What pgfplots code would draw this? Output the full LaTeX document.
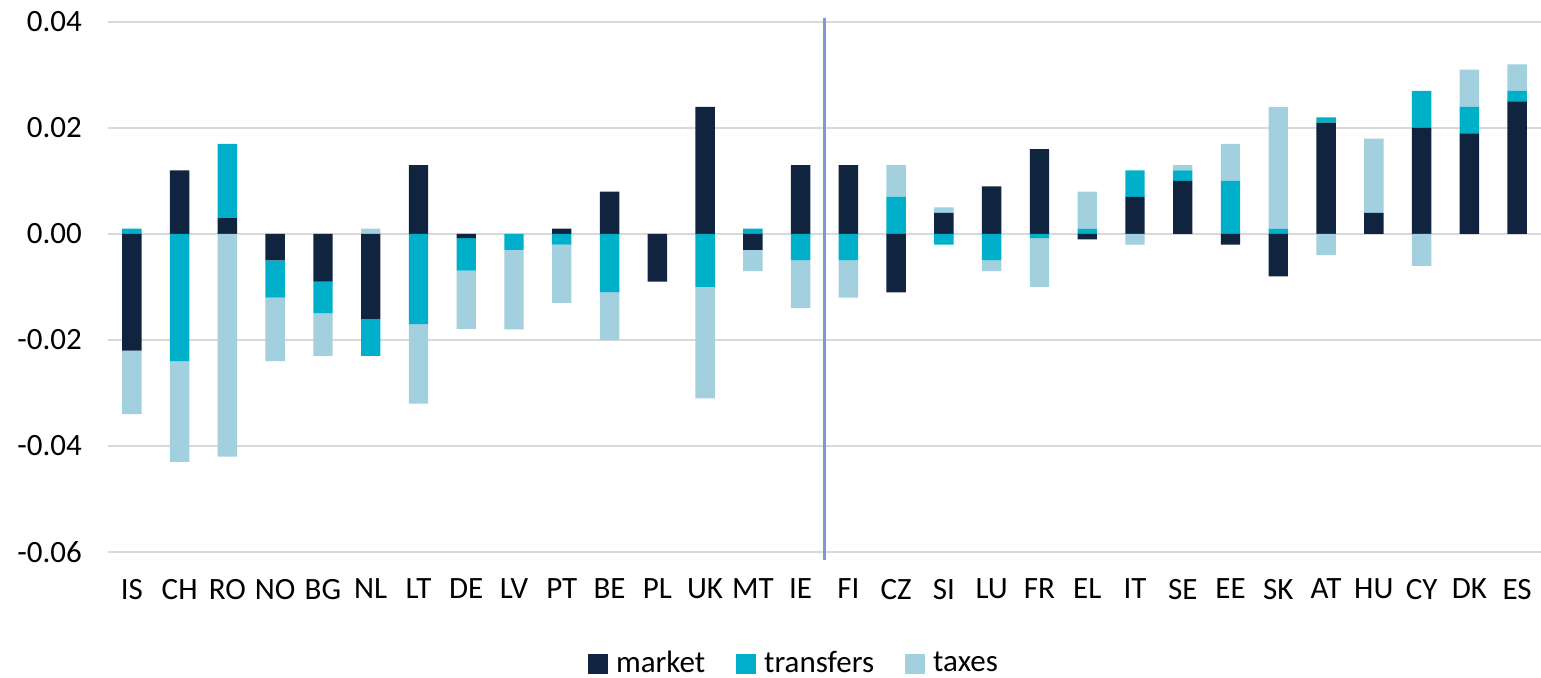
\documentclass[border=0pt]{standalone}
\usepackage{pgfplots}
\pgfplotsset{compat=1.18}
\usepackage{pgfplotstable}
\usepackage{fontspec}
\setmainfont{Carlito}
\definecolor{cmarket}{HTML}{10243F}
\definecolor{ctransfers}{HTML}{00B0CA}
\definecolor{ctaxes}{HTML}{A3D0DE}
\definecolor{cgrid}{HTML}{D9D9D9}
\definecolor{cvline}{HTML}{789BD6}
\newcommand{\lblfont}{\fontsize{15.5pt}{18pt}\selectfont}

% positive parts (stacked upward from 0: market, transfers, taxes)
\pgfplotstableread{
x market transfers taxes
0  0      0.001  0
1  0.012  0      0
2  0.003  0.014  0
3  0      0      0
4  0      0      0
5  0      0      0.001
6  0.013  0      0
7  0      0      0
8  0      0      0
9  0.001  0      0
10 0.008  0      0
11 0      0      0
12 0.024  0      0
13 0      0.001  0
14 0.013  0      0
15 0.013  0      0
16 0      0.007  0.006
17 0.004  0      0.001
18 0.009  0      0
19 0.016  0      0
20 0      0.001  0.007
21 0.007  0.005  0
22 0.010  0.002  0.001
23 0      0.010  0.007
24 0      0.001  0.023
25 0.021  0.001  0
26 0.004  0      0.014
27 0.020  0.007  0
28 0.019  0.005  0.007
29 0.025  0.002  0.005
}\postable

% negative parts (stacked downward from 0: market, transfers, taxes)
\pgfplotstableread{
x market transfers taxes
0  -0.022  0       -0.012
1  0       -0.024  -0.019
2  0       0       -0.042
3  -0.005  -0.007  -0.012
4  -0.009  -0.006  -0.008
5  -0.016  -0.007  0
6  0       -0.017  -0.015
7  -0.0008 -0.0061 -0.011
8  0       -0.003  -0.015
9  0       -0.002  -0.011
10 0       -0.011  -0.009
11 -0.009  0       0
12 0       -0.010  -0.021
13 -0.003  0       -0.004
14 0       -0.005  -0.009
15 0       -0.005  -0.007
16 -0.011  0       0
17 0       -0.002  0
18 0       -0.005  -0.002
19 0       -0.0008 -0.0092
20 -0.001  0       0
21 0       0       -0.002
22 0       0       0
23 -0.002  0       0
24 -0.008  0       0
25 0       0       -0.004
26 0       0       0
27 0       0       -0.006
28 0       0       0
29 0       0       0
}\negtable

\pgfplotsset{
  common/.style={
    scale only axis,
    width=716.5pt, height=265pt,
    at={(54pt,63pt)}, anchor=south west,
    xmin=-0.5, xmax=29.5,
    ymin=-0.06, ymax=0.04,
    ybar stacked,
    bar width=9.7pt,
  }
}

\begin{document}
\begin{tikzpicture}
\useasboundingbox (0,0) rectangle (770.5pt,339pt);
\begin{axis}[
  common,
  axis line style={draw=none},
  major tick length=0pt,
  ymajorgrids,
  major grid style={color=cgrid, line width=0.8pt},
  xtick={0,...,29},
  xticklabels={IS,CH,RO,NO,BG,NL,LT,DE,LV,PT,BE,PL,UK,MT,IE,FI,CZ,SI,LU,FR,EL,IT,SE,EE,SK,AT,HU,CY,DK,ES},
  ytick={-0.06,-0.04,-0.02,0,0.02,0.04},
  yticklabels={-0.06,-0.04,-0.02,0.00,0.02,0.04},
  scaled y ticks=false,
  yticklabel style={font=\lblfont, anchor=east, xshift=-9.5pt},
  xticklabel style={font=\lblfont, anchor=north, yshift=-10pt},
  legend image code/.code={\fill[#1] (0pt,-5pt) rectangle (10pt,5pt);},
  legend style={
    draw=none, fill=none, font=\lblfont,
    at={(0.478,-0.2105)}, anchor=center,
    legend columns=-1,
    nodes={inner sep=0pt},
    /tikz/every odd column/.append style={column sep=4pt},
    /tikz/every even column/.append style={column sep=15.5pt},
  },
]
\addplot[fill=cmarket, draw=none] table[x=x, y=market] {\postable};
\addplot[fill=ctransfers, draw=none] table[x=x, y=transfers] {\postable};
\addplot[fill=ctaxes, draw=none] table[x=x, y=taxes] {\postable};
\legend{market, transfers, taxes}
\end{axis}
\begin{axis}[
  common,
  hide axis,
  clip=false,
]
\addplot[fill=cmarket, draw=none] table[x=x, y=market] {\negtable};
\addplot[fill=ctransfers, draw=none] table[x=x, y=transfers] {\negtable};
\addplot[fill=ctaxes, draw=none] table[x=x, y=taxes] {\negtable};
\draw[cvline, line width=1.1pt] (axis cs:14.5,-0.0615) -- (axis cs:14.5,0.0408);
\end{axis}
\end{tikzpicture}
\end{document}
